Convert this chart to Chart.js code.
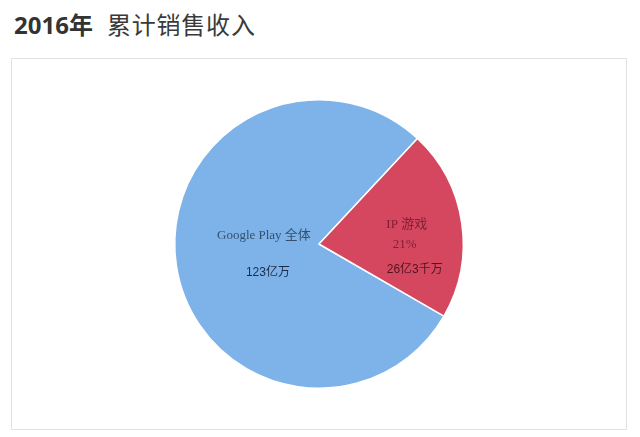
<!DOCTYPE html>
<html>
<head>
<meta charset="utf-8">
<script src="https://cdn.jsdelivr.net/npm/chart.js@4/dist/chart.umd.min.js"></script>
<style>
  body { margin: 0; background: #fff; width: 640px; height: 437px; position: relative; overflow: hidden; }
  #title { position: absolute; left: 14px; top: 6px; font-size: 24px; color: #3a3a3a; font-family: "Noto Sans CJK SC", "Open Sans", sans-serif; white-space: pre; }
  #title b { font-family: "Open Sans", "Noto Sans CJK SC", sans-serif; font-weight: 700; margin-right: 14px; color: #333; }
  #title span { letter-spacing: 0.8px; }
  #box { position: absolute; left: 11px; top: 58px; width: 614px; height: 370px; border: 1px solid #e2e2e2; }
</style>
</head>
<body>
<div id="title"><b>2016年</b><span>累计销售收入</span></div>
<div id="box"><canvas id="myChart"></canvas></div>
<script>
const categories = ["Google Play 全体", "IP 游戏"];
const values = [96.7, 26.3];
const valueLabels = ["123亿万", "26亿3千万"];
const percentLabels = ["", "21%"];

const sliceColors = ["#7db3e9", "#d4475f"];

// draws the text inside each slice, anchored on the slice's mid angle
const sliceLabels = {
  id: "sliceLabels",
  afterDatasetsDraw(chart, args, opts) {
    const { ctx } = chart;
    const meta = chart.getDatasetMeta(0);
    meta.data.forEach((arc, i) => {
      const cfg = opts.slices[i];
      const mid = (arc.startAngle + arc.endAngle) / 2;
      const r = arc.outerRadius * cfg.frac;
      const ax = arc.x + Math.cos(mid) * r;
      const ay = arc.y + Math.sin(mid) * r;
      const lines = [
        { text: categories[i], font: '13px "Liberation Serif", "Noto Sans CJK SC", serif', color: cfg.nameColor },
        { text: percentLabels[i], font: '13px "Liberation Serif", "Noto Sans CJK SC", serif', color: cfg.nameColor },
        { text: valueLabels[i], font: '12px "Liberation Sans", "Noto Sans CJK SC", sans-serif', color: cfg.valueColor },
      ];
      ctx.save();
      ctx.textAlign = "center";
      ctx.textBaseline = "middle";
      lines.forEach((line, j) => {
        const off = cfg.offsets[j];
        if (!line.text || !off) return;
        ctx.font = line.font;
        ctx.fillStyle = line.color;
        ctx.fillText(line.text, ax + off[0], ay + off[1]);
      });
      ctx.restore();
    });
  },
};

const ctx = document.getElementById("myChart").getContext("2d");

const myChart = new Chart(ctx, {
  type: "pie",
  data: {
    labels: categories,
    datasets: [
      {
        data: values,
        backgroundColor: sliceColors,
        borderColor: "#ffffff",
        borderWidth: 1.5,
        hoverOffset: 0,
      },
    ],
  },
  options: {
    responsive: true,
    maintainAspectRatio: false,
    animation: false,
    rotation: 120,
    layout: { padding: 40 },
    plugins: {
      legend: { display: false },
      tooltip: { enabled: false },
      sliceLabels: {
        slices: [
          { frac: 0.4, nameColor: "#34506f", valueColor: "#1c2c48", offsets: [[2, -17], null, [6, 20]] },
          { frac: 0.65, nameColor: "#7e1f32", valueColor: "#4f1622", offsets: [[-5, -6], [-7, 14], [3, 40]] },
        ],
      },
    },
  },
  plugins: [sliceLabels],
});
</script>
</body>
</html>
